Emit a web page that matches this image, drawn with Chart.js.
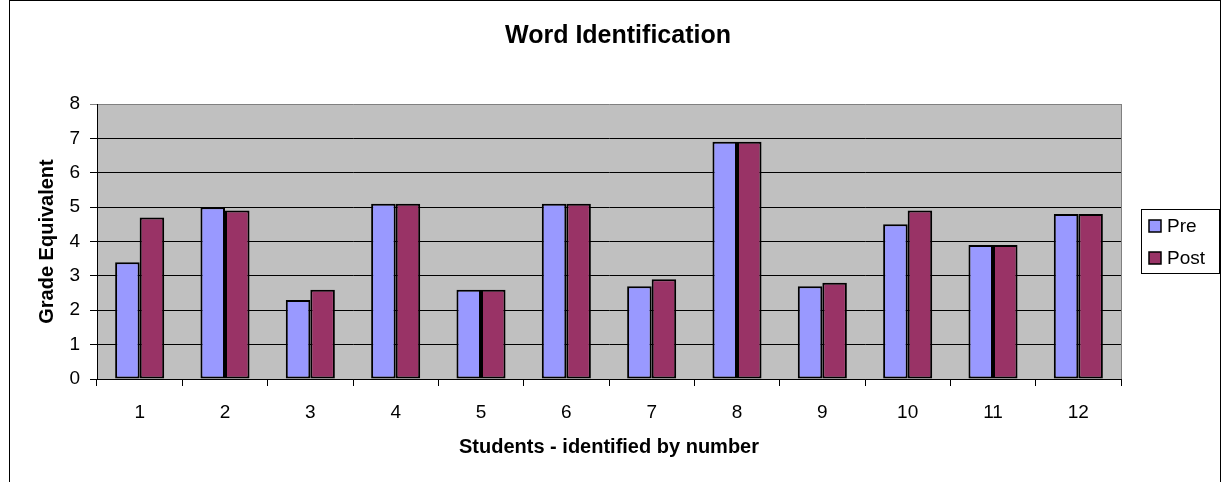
<!DOCTYPE html>
<html>
<head>
<meta charset="utf-8">
<title>Word Identification</title>
<script src="https://cdn.jsdelivr.net/npm/chart.js@4.4.1/dist/chart.umd.min.js"></script>
<style>
  body { margin: 0; background: #ffffff; }
  #wordChart { display: block; }
</style>
</head>
<body>
<canvas id="wordChart" width="1222" height="482"></canvas>
<script>
var wordChart;

var students = ['1', '2', '3', '4', '5', '6', '7', '8', '9', '10', '11', '12'];
var preScores = [3.4, 5.0, 2.3, 5.1, 2.6, 5.1, 2.7, 6.9, 2.7, 4.5, 3.9, 4.8];
var postScores = [4.7, 4.9, 2.6, 5.1, 2.6, 5.1, 2.9, 6.9, 2.8, 4.9, 3.9, 4.8];
var seriesNames = ['Pre', 'Post'];
var seriesColors = ['#9999FF', '#993366'];

var fontFam = "'Liberation Sans', Arial, sans-serif";

// grey plot area + outer frame, drawn before grid and bars
var backdropPlugin = {
    id: 'backdrop',
    beforeDraw: function (chart) {
        var ctx = chart.ctx;
        var a = chart.chartArea;
        ctx.save();
        ctx.fillStyle = '#ffffff';
        ctx.fillRect(0, 0, chart.width, chart.height);
        ctx.strokeStyle = '#000000';
        ctx.lineWidth = 1;
        ctx.strokeRect(9.5, 0.5, 1211, 500);
        ctx.fillStyle = '#C0C0C0';
        ctx.fillRect(a.left, a.top, a.right - a.left, a.bottom - a.top);
        ctx.strokeStyle = '#808080';
        ctx.beginPath();
        ctx.moveTo(Math.round(a.right) + 0.5, a.top);
        ctx.lineTo(Math.round(a.right) + 0.5, a.bottom);
        ctx.stroke();
        ctx.restore();
    }
};

// Excel style boxed legend on the right
var boxLegendPlugin = {
    id: 'boxLegend',
    afterDraw: function (chart) {
        var ctx = chart.ctx;
        var sets = chart.data.datasets;
        ctx.save();
        ctx.fillStyle = '#ffffff';
        ctx.fillRect(1141, 209, 79, 65);
        ctx.strokeStyle = '#000000';
        ctx.lineWidth = 1;
        ctx.strokeRect(1141.5, 209.5, 78, 64);
        ctx.font = '19px ' + fontFam;
        ctx.textBaseline = 'middle';
        for (var i = 0; i < sets.length; i++) {
            var cy = 226 + i * 32;
            ctx.fillStyle = sets[i].backgroundColor;
            ctx.fillRect(1149, cy - 6, 12, 12);
            ctx.lineWidth = 1.5;
            ctx.strokeRect(1149, cy - 6, 12, 12);
            ctx.fillStyle = '#000000';
            ctx.fillText(sets[i].label, 1167, cy + 1);
        }
        ctx.restore();
    }
};

function initiateWordChart() {
    var ctx = document.getElementById('wordChart').getContext('2d');

    wordChart = new Chart(ctx, {
        type: 'bar',
        data: {
            labels: students,
            datasets: [
                {
                    label: seriesNames[0],
                    data: preScores,
                    backgroundColor: seriesColors[0],
                    borderColor: '#000000',
                    borderWidth: 2,
                    borderSkipped: false
                },
                {
                    label: seriesNames[1],
                    data: postScores,
                    backgroundColor: seriesColors[1],
                    borderColor: '#000000',
                    borderWidth: 2,
                    borderSkipped: false
                }
            ]
        },
        options: {
            responsive: false,
            animation: false,
            devicePixelRatio: 1,
            categoryPercentage: 0.575,
            barPercentage: 1.0,
            layout: {
                padding: { left: 14, right: 0, top: 0, bottom: 0 }
            },
            plugins: {
                legend: { display: false },
                tooltip: { enabled: false },
                title: {
                    display: true,
                    text: 'Word Identification',
                    color: '#000000',
                    font: { family: fontFam, size: 25, weight: 'bold' },
                    padding: { top: 21, bottom: 53 }
                }
            },
            scales: {
                x: {
                    offset: true,
                    grid: {
                        offset: true,
                        drawOnChartArea: false,
                        tickLength: 7,
                        color: '#000000'
                    },
                    border: { color: '#000000', width: 1 },
                    ticks: {
                        color: '#000000',
                        padding: 15,
                        maxRotation: 0,
                        font: { family: fontFam, size: 19 }
                    },
                    title: {
                        display: true,
                        text: 'Students - identified by number',
                        color: '#000000',
                        font: { family: fontFam, size: 20, weight: 'bold' },
                        padding: { top: 0, bottom: 23 }
                    },
                    afterFit: function (scale) { scale.height = 103; }
                },
                y: {
                    min: 0,
                    max: 8,
                    ticks: {
                        stepSize: 1,
                        color: '#000000',
                        padding: 10,
                        font: { family: fontFam, size: 19 }
                    },
                    grid: {
                        tickLength: 7,
                        color: function (c) { return c.tick && c.tick.value === 8 ? '#808080' : '#000000'; }
                    },
                    border: { color: '#000000', width: 1 },
                    title: {
                        display: true,
                        text: 'Grade Equivalent',
                        color: '#000000',
                        font: { family: fontFam, size: 20, weight: 'bold' },
                        padding: { top: 21, bottom: 0 }
                    },
                    afterFit: function (scale) { scale.width = 83; }
                },
                // empty gutter that keeps room for the legend box
                gutter: {
                    type: 'linear',
                    position: 'right',
                    display: true,
                    grid: { display: false, drawTicks: false },
                    border: { display: false },
                    ticks: { display: false },
                    afterFit: function (scale) { scale.width = 101; }
                }
            }
        },
        plugins: [backdropPlugin, boxLegendPlugin]
    });
}

document.addEventListener('DOMContentLoaded', function () {
    initiateWordChart();
});
</script>
</body>
</html>
